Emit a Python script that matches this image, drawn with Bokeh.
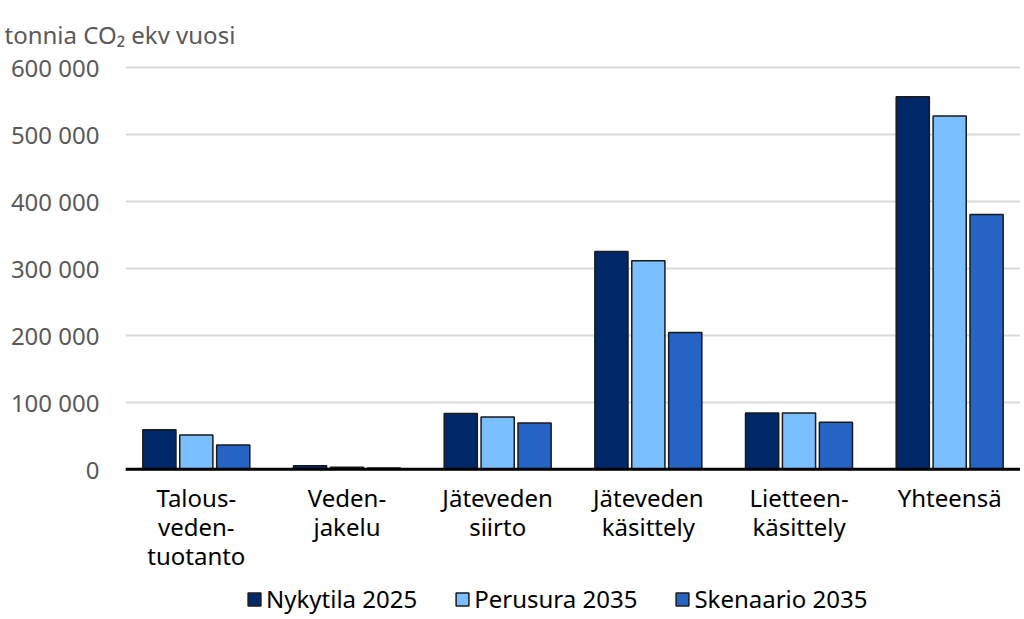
from bokeh.plotting import figure
from bokeh.models import (ColumnDataSource, FactorRange, Range1d, Legend, LegendItem,
                          FixedTicker, CustomJSTickFormatter, LabelSet, Span)
from bokeh.core.properties import value
from bokeh.transform import dodge
from bokeh.embed import file_html
from bokeh.resources import INLINE

categories = ["Talous-\nveden-\ntuotanto", "Veden-\njakelu", "Jäteveden\nsiirto",
              "Jäteveden\nkäsittely", "Lietteen-\nkäsittely", "Yhteensä"]
nykytila_2025 = [59000, 5000, 83000, 325000, 84000, 556000]
perusura_2035 = [51000, 3000, 78000, 311000, 84000, 527000]
skenaario_2035 = [36000, 2000, 69000, 204000, 70000, 380000]
series_names = ["Nykytila 2025", "Perusura 2035", "Skenaario 2035"]
y_ticks = [0, 100000, 200000, 300000, 400000, 500000, 600000]

colors = ["#002868", "#7abfff", "#2563c4"]
FONT = "Noto Sans"

# split each category label into its lines so that every line is centred
split = [c.split("\n") for c in categories]
line1 = [s[0] if len(s) > 0 else "" for s in split]
line2 = [s[1] if len(s) > 1 else "" for s in split]
line3 = [s[2] if len(s) > 2 else "" for s in split]

src = ColumnDataSource(dict(cat=categories, a=nykytila_2025, b=perusura_2035, c=skenaario_2035,
                            l1=line1, l2=line2, l3=line3))

p = figure(x_range=FactorRange(*categories, range_padding=-0.01),
           y_range=Range1d(-221300, 604000),
           frame_width=895, frame_height=553, output_backend="svg", toolbar_location=None,
           min_border_left=125, min_border_right=0, min_border_top=64, min_border_bottom=0,
           background_fill_color="white", border_fill_color="white")
p.outline_line_color = None

renderers = []
for key, off, col in zip(["a", "b", "c"], [-0.245, 0.0, 0.245], colors):
    r = p.vbar(x=dodge("cat", off, range=p.x_range), top=key, width=0.22, source=src,
               fill_color=col, line_color="#1a1a1a", line_width=1.5)
    renderers.append(r)

# title
p.title.text = "tonnia CO\u2082 ekv vuosi"
p.title.text_font = FONT
p.title.text_font_size = "24px"
p.title.text_font_style = "normal"
p.title.text_color = "#595959"
p.title.align = "left"
p.title.offset = -121
p.title.standoff = 28

# y axis
p.yaxis.ticker = FixedTicker(ticks=y_ticks)
p.yaxis.formatter = CustomJSTickFormatter(code="""
return Math.round(tick).toString().replace(/\\B(?=(\\d{3})+(?!\\d))/g, ' ');
""")
p.yaxis.axis_line_color = None
p.yaxis.major_tick_line_color = None
p.yaxis.minor_tick_line_color = None
p.yaxis.major_label_text_font = FONT
p.yaxis.major_label_text_font_size = "24px"
p.yaxis.major_label_text_color = "#595959"
p.yaxis.major_label_standoff = 20

p.xaxis.visible = False
p.xgrid.grid_line_color = None
p.ygrid.grid_line_color = "#d9d9d9"
p.ygrid.grid_line_width = 2

# baseline at zero
p.add_layout(Span(location=0, dimension="width", line_color="black", line_width=3))

# category labels, one centred line at a time
for col, off in zip(["l1", "l2", "l3"], [-12, -41, -70]):
    p.add_layout(LabelSet(x="cat", y=0, text=col, source=src, y_offset=off,
                          text_align="center", text_baseline="top",
                          text_font=value(FONT), text_font_size=value("24px"),
                          text_color="black"))

legend = Legend(items=[LegendItem(label=n, renderers=[r]) for n, r in zip(series_names, renderers)],
                orientation="horizontal", location=(121, 2),
                label_text_font=FONT, label_text_font_size="24px", label_text_color="black",
                glyph_width=16, glyph_height=16, spacing=37, label_standoff=4,
                border_line_color=None, background_fill_alpha=0, margin=0, padding=0)
p.add_layout(legend, "center")

open("out.html", "w").write(file_html(p, INLINE))
